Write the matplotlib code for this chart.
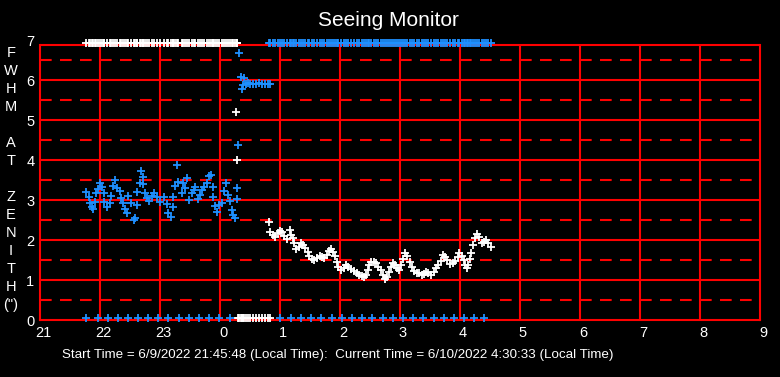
import matplotlib
matplotlib.use('Agg')
import matplotlib.pyplot as plt
import matplotlib.transforms as mtrans

# 蓝色序列（小时，21 起算，跨午夜记为 24+）
blue_hours = [21.77, 21.82, 21.83, 21.86, 21.88, 21.92, 21.93, 21.96, 22.00, 22.03,
              22.06, 22.07, 22.11, 22.16, 22.18, 22.21, 22.25, 22.28, 22.33, 22.35,
              22.38, 22.42, 22.45, 22.46, 22.51, 22.57, 22.59, 22.61, 22.62, 22.66,
              22.68, 22.71, 22.72, 22.75, 22.79, 22.82, 22.86, 22.90, 22.95, 23.00,
              23.07, 23.11, 23.14, 23.18, 23.21, 23.22, 23.25, 23.29, 23.30, 23.36,
              23.38, 23.42, 23.45, 23.49, 23.53, 23.56, 23.58, 23.64, 23.67, 23.70,
              23.73, 23.78, 23.81, 23.85, 23.88, 23.89, 23.92, 23.95, 23.99, 24.03,
              24.07, 24.10, 24.14, 24.17, 24.20, 24.22, 24.25, 24.28, 24.29,
              24.30, 24.32,
              24.35, 24.38, 24.37, 24.40, 24.44, 24.47, 24.50, 24.55, 24.60, 24.65,
              24.70, 24.75, 24.80, 24.83]
blue_fwhm = [3.19, 3.08, 2.93, 2.83, 2.78, 2.96, 3.18, 3.28, 3.43, 3.33,
             3.18, 2.96, 2.83, 2.93, 3.10, 3.35, 3.50, 3.29, 3.23, 3.04,
             2.92, 2.77, 2.67, 3.10, 2.93, 2.50, 2.54, 2.88, 3.21, 3.42,
             3.73, 3.57, 3.39, 3.18, 3.04, 2.98, 3.10, 3.17, 3.08, 2.96,
             3.08, 2.90, 2.67, 2.58, 2.82, 3.08, 3.35, 3.87, 3.46, 3.17,
             3.42, 3.29, 3.54, 3.00, 3.17, 3.25, 3.32, 3.02, 3.13, 3.25,
             3.32, 3.42, 3.60, 3.63, 3.33, 3.08, 2.85, 2.71, 2.88, 2.92,
             3.23, 3.42, 3.13, 2.98, 2.75, 2.63, 2.54, 3.02, 3.29,
             4.37, 6.67,
             6.07, 5.88, 5.77, 6.04, 5.91, 5.92, 5.89, 5.91, 5.90, 5.92,
             5.90, 5.91, 5.89, 5.90]

# 白色序列
white_hours = [24.27, 24.28,
               24.82, 24.83, 24.88, 24.92, 24.96, 25.00, 25.04, 25.07, 25.11, 25.16,
               25.18, 25.21, 25.23, 25.27, 25.31, 25.35, 25.39, 25.42, 25.46, 25.49,
               25.53, 25.57, 25.61, 25.66, 25.70, 25.73, 25.78, 25.82, 25.85, 25.89,
               25.92, 25.95, 25.97, 26.01, 26.06, 26.10, 26.14, 26.18, 26.23, 26.28,
               26.32, 26.36, 26.40, 26.43, 26.46, 26.49, 26.51, 26.56, 26.60, 26.64,
               26.68, 26.71, 26.75, 26.79, 26.82, 26.85, 26.88, 26.92, 26.95, 26.98,
               27.01, 27.05, 27.08, 27.12, 27.16, 27.20, 27.23, 27.28, 27.32, 27.36,
               27.40, 27.43, 27.47, 27.51, 27.56, 27.60, 27.64, 27.68, 27.71, 27.75,
               27.79, 27.83, 27.88, 27.92, 27.96, 27.99, 28.03, 28.06, 28.08, 28.11,
               28.14, 28.17, 28.19, 28.21, 28.25, 28.28, 28.32, 28.36, 28.40, 28.44,
               28.47, 28.51]
white_fwhm = [5.19, 4.00,
              2.44, 2.19, 2.13, 2.08, 2.17, 2.23, 2.19, 2.11, 2.02, 2.25,
              2.13, 2.06, 1.92, 1.77, 1.83, 1.92, 1.88, 1.79, 1.71, 1.60,
              1.52, 1.50, 1.54, 1.60, 1.57, 1.54, 1.63, 1.73, 1.78, 1.71,
              1.60, 1.46, 1.33, 1.25, 1.29, 1.38, 1.33, 1.27, 1.23, 1.18,
              1.13, 1.10, 1.07, 1.13, 1.25, 1.38, 1.46, 1.44, 1.42, 1.33,
              1.25, 1.13, 1.03, 1.08, 1.21, 1.33, 1.42, 1.38, 1.29, 1.25,
              1.38, 1.52, 1.67, 1.60, 1.46, 1.33, 1.23, 1.18, 1.17, 1.13,
              1.15, 1.21, 1.18, 1.13, 1.21, 1.29, 1.38, 1.48, 1.63, 1.58,
              1.50, 1.40, 1.43, 1.48, 1.58, 1.67, 1.60, 1.50, 1.38, 1.29,
              1.38, 1.52, 1.68, 1.88, 2.04, 2.14, 2.08, 1.92, 1.96, 2.00,
              1.92, 1.82]

# 底部蓝色标记（约每 10 分钟）
blue_floor_hours = [21.77, 21.97, 22.13, 22.30, 22.47, 22.63, 22.80, 22.97, 23.13, 23.32,
                    23.48, 23.65, 23.82, 23.98, 24.17, 25.00, 25.18, 25.35, 25.52, 25.68,
                    25.87, 26.03, 26.20, 26.37, 26.53, 26.72, 26.88, 27.05, 27.22, 27.38,
                    27.57, 27.73, 27.90, 28.07, 28.23, 28.40]

x_ticks = list(range(21, 34))
x_labels = [str(h % 24) for h in x_ticks]
y_ticks = list(range(0, 8))
title = "Seeing Monitor"
footer = "Start Time = 6/9/2022 21:45:48 (Local Time):  Current Time = 6/10/2022 4:30:33 (Local Time)"
ylabel_letters = ['F', 'W', 'H', 'M', '', 'A', 'T', '', 'Z', 'E', 'N', 'I', 'T', 'H', '(")']

RED = '#ff0000'
BLUE = '#1e90ff'
plt.rcParams['font.family'] = ['Liberation Sans', 'DejaVu Sans']

fig = plt.figure(figsize=(7.8, 3.77), dpi=100, facecolor='black')
ax = fig.add_axes([40/780, 57/377, 720/780, 280/377], facecolor='black')
ax.set_xlim(21, 33)
ax.set_ylim(0, 7)
frame_top = 6.87

# 网格
for y in [i + 0.5 for i in range(7)]:
    ax.hlines(y, 21, 33, color=RED, lw=1.5, linestyle=(0, (5.6, 4)), zorder=1)
ax.hlines(range(1, 7), 21, 33, color=RED, lw=1.5, zorder=1)
ax.hlines(frame_top, 21, 33, color=RED, lw=1.5, zorder=1)
ax.vlines(range(22, 33), 0, frame_top, color=RED, lw=1.5, zorder=1)
for s in ['left', 'right', 'bottom']:
    ax.spines[s].set_color(RED)
    ax.spines[s].set_linewidth(1.5)
ax.spines['left'].set_bounds(0, frame_top)
ax.spines['right'].set_bounds(0, frame_top)
ax.spines['top'].set_visible(False)

mk = dict(marker='+', linestyle='none', ms=5.5, mew=1.3, clip_on=False, zorder=3)
ax.plot(blue_hours, blue_fwhm, color=BLUE, **mk)
ax.plot(white_hours, white_fwhm, color='white', **mk)
# 顶部/底部标记
top_white = blue_hours[:79] + [24.29]
top_blue = white_hours[2:]
floor_white = blue_hours[81:] + [24.30, 24.32]
ax.plot(top_white, [6.93] * len(top_white), color='white', **mk)
ax.plot(top_blue, [6.93] * len(top_blue), color=BLUE, **mk)
ax.plot(blue_floor_hours, [0.06] * len(blue_floor_hours), color=BLUE, **mk)
ax.plot(floor_white, [0.06] * len(floor_white), color='white', **mk)

ax.set_xticks(x_ticks)
ax.set_xticklabels(x_labels)
ax.set_yticks(y_ticks)
ax.tick_params(colors='white', length=0, labelsize=10.5)
ax.tick_params(axis='x', pad=4)
ax.tick_params(axis='y', pad=4)
shift = mtrans.ScaledTranslation(3/100, 0, fig.dpi_scale_trans)
for lab in ax.get_xticklabels():
    lab.set_transform(lab.get_transform() + shift)

fig.text(388/780, 1 - 20/377, title, color='white', fontsize=15, ha='center', va='center')
fig.text(338/780, 1 - 355/377, footer, color='white', fontsize=9.6, ha='center', va='center')
for i, ch in enumerate(ylabel_letters):
    fig.text(11/780, 1 - (53 + 18 * i)/377, ch, color='white', fontsize=10.5,
             ha='center', va='center')

fig.savefig('out.png', dpi=100, facecolor='black')
